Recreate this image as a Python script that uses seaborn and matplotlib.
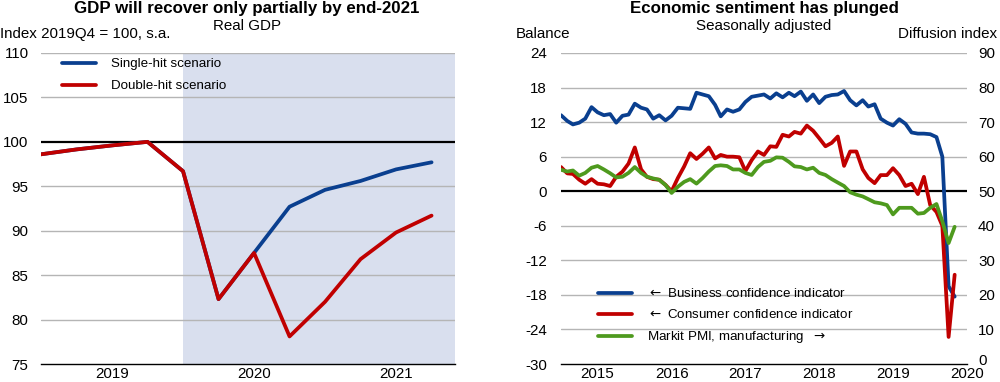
import numpy as np
import pandas as pd
import matplotlib
matplotlib.use("Agg")
import matplotlib.pyplot as plt
import matplotlib.transforms as mtransforms
import seaborn as sns
from matplotlib.lines import Line2D

# ---------------- data ----------------
quarters = ["2019Q1", "2019Q2", "2019Q3", "2019Q4",
            "2020Q1", "2020Q2", "2020Q3", "2020Q4",
            "2021Q1", "2021Q2", "2021Q3", "2021Q4"]
single_hit = [98.6, 99.15, 99.6, 100.0, 96.7, 82.3, 87.5, 92.7, 94.6, 95.6, 96.9, 97.7]
double_hit = [98.6, 99.15, 99.6, 100.0, 96.7, 82.3, 87.5, 78.1, 82.0, 86.8, 89.8, 91.7]
year_labels_left = ["2019", "2020", "2021"]

months = pd.date_range("2015-01-01", "2020-05-01", freq="MS")
business = [13.2, 12.2, 11.6, 11.9, 12.6, 14.6, 13.7, 13.2, 13.4, 11.9,
            13.1, 13.3, 15.2, 14.5, 14.2, 12.6, 13.2, 12.3, 13.1, 14.5,
            14.4, 14.3, 17.1, 16.8, 16.5, 15.0, 13.0, 14.2, 13.8, 14.2,
            15.5, 16.4, 16.6, 16.8, 16.1, 17.0, 16.3, 17.1, 16.5, 17.3,
            15.7, 16.8, 15.3, 16.4, 16.7, 16.8, 17.4, 15.8, 14.9, 15.8,
            14.7, 15.1, 12.6, 11.9, 11.4, 12.5, 11.7, 10.2, 10.0, 10.0,
            9.9, 9.4, 6.0, -16.5, -18.3]
consumer = [4.2, 3.1, 3.0, 2.0, 1.3, 2.1, 1.3, 1.2, 0.9, 2.5,
            3.4, 4.8, 7.6, 3.8, 2.5, 2.1, 2.0, 1.1, 0.0, 2.3,
            4.3, 6.6, 5.6, 6.5, 7.6, 5.7, 6.3, 6.0, 6.0, 5.9,
            3.5, 5.4, 6.9, 6.3, 7.8, 7.7, 9.8, 9.5, 10.3, 10.0,
            11.4, 10.5, 9.2, 7.8, 8.4, 9.5, 4.4, 6.9, 6.9, 3.8,
            2.3, 1.4, 2.8, 2.8, 4.0, 2.8, 0.9, 1.3, -0.5, 2.5,
            -2.4, -3.6, -6.0, -25.3, -14.5]
pmi = [56.2, 55.7, 56.0, 54.5, 55.3, 56.8, 57.3, 56.3, 55.2, 54.0,
       54.2, 55.3, 57.0, 55.3, 54.2, 53.7, 53.3, 51.8, 49.5, 51.3,
       52.7, 53.5, 52.2, 53.8, 55.7, 57.3, 57.5, 57.3, 56.3, 56.3,
       55.3, 54.7, 57.0, 58.5, 58.8, 59.8, 59.7, 58.5, 57.2, 57.0,
       56.3, 56.8, 55.3, 54.7, 53.5, 52.5, 51.5, 49.7, 49.0, 48.5,
       47.7, 46.8, 46.5, 46.0, 43.3, 45.2, 45.2, 45.2, 43.5, 43.7,
       45.2, 46.3, 41.3, 35.0, 39.7]
year_labels_right = ["2015", "2016", "2017", "2018", "2019", "2020"]

# ---------------- style ----------------
BLUE = "#0a3f8f"
RED = "#c00000"
GREEN = "#4e9a1e"
SHADE = "#d9dfee"
GRID = "#b5b5b5"

sns.set_theme(style="white")
plt.rcParams["font.family"] = ["Liberation Sans", "DejaVu Sans"]
plt.rcParams["mathtext.fontset"] = "dejavusans"
plt.rcParams["text.color"] = "black"
plt.rcParams["xtick.color"] = "black"
plt.rcParams["ytick.color"] = "black"

W, H = 1000, 382
fig = plt.figure(figsize=(10, 3.82), dpi=100)
fig.patch.set_facecolor("white")


def fx(px):
    return px / W


def fy(py):
    return 1 - py / H


FS = 10.9
LFS = 9.6
LW = 2.7

# ---------------- left panel ----------------
axL = fig.add_axes([fx(41), fy(364), fx(455) - fx(41), fy(53) - fy(364)])
q_idx = np.arange(len(quarters))
dfL = pd.DataFrame({"q": q_idx,
                    "Single-hit scenario": single_hit,
                    "Double-hit scenario": double_hit})
longL = dfL.melt(id_vars="q", var_name="Scenario", value_name="Index")
sns.lineplot(data=longL, x="q", y="Index", hue="Scenario",
             hue_order=["Single-hit scenario", "Double-hit scenario"],
             palette={"Single-hit scenario": BLUE, "Double-hit scenario": RED},
             linewidth=LW, ax=axL, legend=False)
for ln in axL.lines:
    ln.set_zorder(3)
xmaxL = 11.66
axL.set_xlim(0, xmaxL)
axL.set_ylim(75, 110)
axL.axvspan(4, xmaxL, color=SHADE, zorder=0, lw=0)
for v in [80, 85, 90, 95, 105, 110]:
    axL.axhline(v, color=GRID, lw=1.0, zorder=1)
axL.axhline(100, color="black", lw=1.6, zorder=2)
for s in ["left", "right", "top"]:
    axL.spines[s].set_visible(False)
axL.spines["bottom"].set_color("black")
axL.spines["bottom"].set_linewidth(1.0)
axL.set_yticks(np.arange(75, 111, 5))
axL.set_yticklabels([str(v) for v in range(75, 111, 5)], fontsize=FS)
axL.tick_params(axis="y", length=0, pad=9)
axL.set_xticks([0, 4, 8])
axL.set_xticklabels(["", "", ""])
minorL = [1, 2, 3, 5, 6, 7, 9, 10, 11]
labsL = ["" for _ in minorL]
labsL[1], labsL[4], labsL[7] = year_labels_left
axL.set_xticks(minorL, minor=True)
axL.set_xticklabels(labsL, minor=True, fontsize=FS)
axL.tick_params(axis="x", which="major", direction="in", length=7, width=1, color="black")
axL.tick_params(axis="x", which="minor", direction="in", length=3.5, width=1, color="black", pad=2.5)
axL.set_xlabel("")
axL.set_ylabel("")
hL = [Line2D([0], [0], color=BLUE, lw=LW), Line2D([0], [0], color=RED, lw=LW)]
axL.legend(hL, ["Single-hit scenario", "Double-hit scenario"], loc="upper left",
           bbox_to_anchor=(0.05, 0.984), frameon=False, fontsize=LFS,
           handlelength=2.6, handletextpad=1.1, labelspacing=0.72,
           borderpad=0, borderaxespad=0)

# ---------------- right panel ----------------
axR = fig.add_axes([fx(561), fy(364), fx(967) - fx(561), fy(53) - fy(364)])
dfR = pd.DataFrame({"date": months, "business": business, "consumer": consumer, "pmi": pmi})
x0, x1 = pd.Timestamp("2015-01-01"), pd.Timestamp("2020-07-01")
axR.set_ylim(-30, 24)
for v in [-24, -18, -12, -6, 6, 12, 18, 24]:
    axR.axhline(v, color=GRID, lw=1.0, zorder=1)
axR.axhline(0, color="black", lw=1.6, zorder=2)
sns.lineplot(data=dfR, x="date", y="business", color=BLUE, linewidth=LW, ax=axR)
sns.lineplot(data=dfR, x="date", y="consumer", color=RED, linewidth=LW, ax=axR)
for ln in axR.lines[-2:]:
    ln.set_zorder(3)
axR.set_xlim(x0, x1)
for s in ["left", "right", "top"]:
    axR.spines[s].set_visible(False)
axR.spines["bottom"].set_color("black")
axR.spines["bottom"].set_linewidth(1.0)
axR.set_yticks(np.arange(-30, 25, 6))
axR.set_yticklabels([str(v) for v in range(-30, 25, 6)], fontsize=FS)
axR.tick_params(axis="y", length=0, pad=10)
majR = [pd.Timestamp(f"{y}-01-01") for y in range(2015, 2021)]
minR, labsR = [], []
for y in range(2015, 2021):
    for m in (4, 7, 10):
        t = pd.Timestamp(f"{y}-{m:02d}-01")
        if t <= x1:
            minR.append(t)
            labsR.append(str(y) if m == 7 else "")
axR.set_xticks(majR)
axR.set_xticklabels(["" for _ in majR])
axR.set_xticks(minR, minor=True)
axR.set_xticklabels(labsR, minor=True, fontsize=FS)
axR.tick_params(axis="x", which="major", direction="in", length=7, width=1, color="black")
axR.tick_params(axis="x", which="minor", direction="in", length=3.5, width=1, color="black", pad=2.5)
axR.set_xlabel("")
axR.set_ylabel("")

ax2 = axR.twinx()
sns.lineplot(data=dfR, x="date", y="pmi", color=GREEN, linewidth=LW, ax=ax2)
ax2.set_ylim(0, 90)
ax2.set_xlim(x0, x1)
ax2.set_yticks(np.arange(0, 91, 10))
ax2.set_yticklabels([str(v) for v in range(0, 91, 10)], fontsize=FS)
ax2.tick_params(axis="y", length=0, pad=8)
ax2.set_ylabel("")
for s in ["left", "right", "top", "bottom"]:
    ax2.spines[s].set_visible(False)
# lift the "0" label slightly so it clears the 2020 year label
lab0 = ax2.get_yticklabels()[0]
lab0.set_transform(lab0.get_transform() +
                   mtransforms.ScaledTranslation(0, 3 / 72, fig.dpi_scale_trans))

hR = [Line2D([0], [0], color=BLUE, lw=LW), Line2D([0], [0], color=RED, lw=LW),
      Line2D([0], [0], color=GREEN, lw=LW)]
ax2.legend(hR, [r"$\leftarrow$ Business confidence indicator",
                r"$\leftarrow$ Consumer confidence indicator",
                r"Markit PMI, manufacturing  $\rightarrow$"],
           loc="lower left", bbox_to_anchor=(0.09, 0.06), frameon=False,
           fontsize=LFS, handlelength=2.6, handletextpad=1.1,
           labelspacing=0.6, borderpad=0, borderaxespad=0)

# ---------------- texts ----------------
fig.text(fx(247), fy(9), "GDP will recover only partially by end-2021",
         ha="center", va="center", fontsize=12.2, fontweight="bold")
fig.text(fx(247), fy(26), "Real GDP", ha="center", va="center", fontsize=FS)
fig.text(fx(0), fy(34), "Index 2019Q4 = 100, s.a.", ha="left", va="center", fontsize=FS)
fig.text(fx(764), fy(9), "Economic sentiment has plunged",
         ha="center", va="center", fontsize=12.2, fontweight="bold")
fig.text(fx(764), fy(26), "Seasonally adjusted", ha="center", va="center", fontsize=FS)
fig.text(fx(516), fy(34), "Balance", ha="left", va="center", fontsize=FS)
fig.text(fx(997), fy(34), "Diffusion index", ha="right", va="center", fontsize=FS)

fig.savefig("out.png", dpi=100, facecolor="white")
